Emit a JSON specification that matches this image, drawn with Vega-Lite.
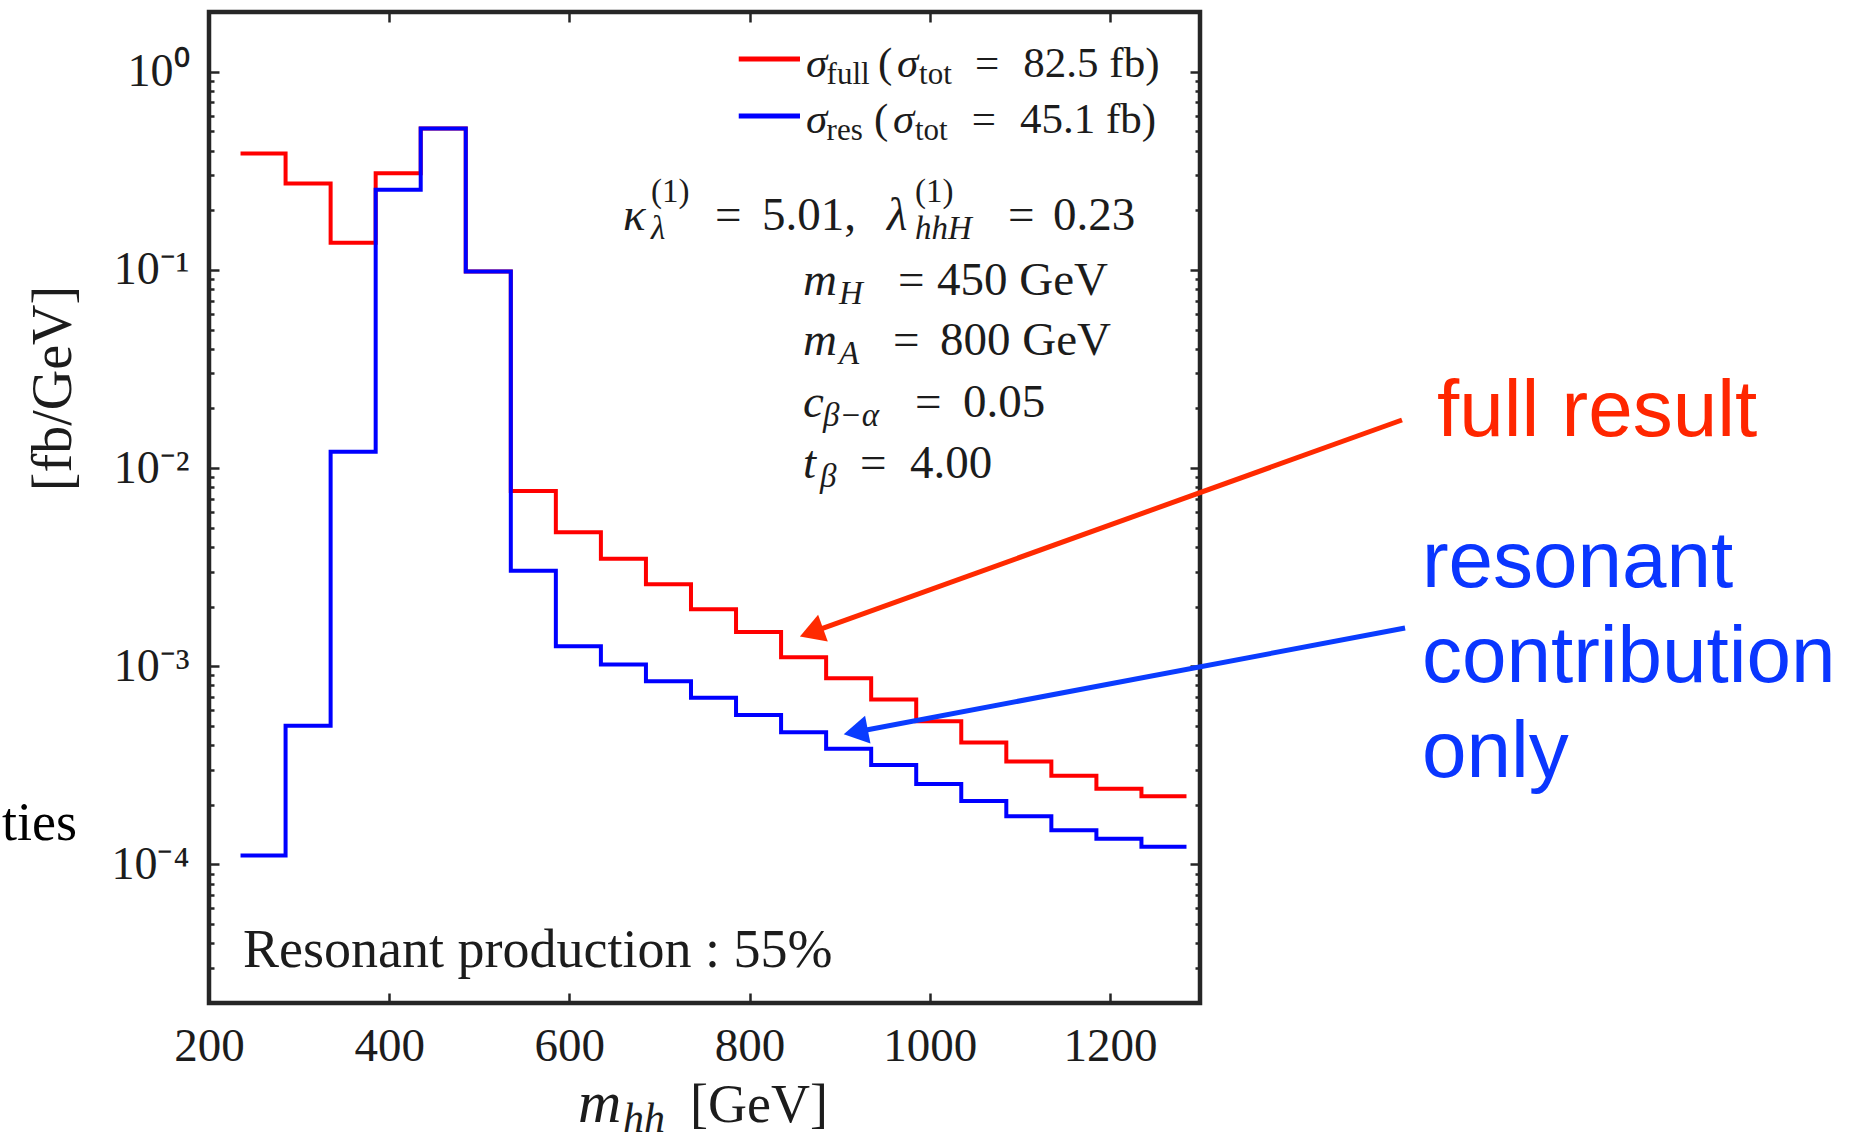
{
  "$schema": "https://vega.github.io/schema/vega-lite/v6.json",
  "width": 991,
  "height": 991,
  "autosize": {"type": "none"},
  "padding": {"left": 209, "top": 12, "right": 676, "bottom": 139},
  "background": "white",
  "config": {
    "view": {"stroke": "#262626", "strokeWidth": 4.5},
    "axis": {"domain": false, "grid": false, "tickColor": "#262626", "tickWidth": 2.5, "labelFont": "Liberation Serif", "titleFont": "Liberation Serif", "labelColor": "#1c1c1c", "titleColor": "#1c1c1c", "labelFontSize": 46, "titleFontWeight": "normal"},
    "text": {"font": "Liberation Serif", "color": "#1c1c1c"}
  },
  "datasets": {
    "full": [{"x":235,"y":0.386},{"x":285,"y":0.273},{"x":335,"y":0.137},{"x":385,"y":0.307},{"x":435,"y":0.516},{"x":485,"y":0.098},{"x":535,"y":0.00766},{"x":585,"y":0.00474},{"x":635,"y":0.00349},{"x":685,"y":0.00259},{"x":735,"y":0.00194},{"x":785,"y":0.00149},{"x":835,"y":0.00111},{"x":885,"y":0.00087},{"x":935,"y":0.00068},{"x":985,"y":0.000528},{"x":1035,"y":0.000413},{"x":1085,"y":0.000331},{"x":1135,"y":0.00028},{"x":1185,"y":0.000241},{"x":1235,"y":0.000221},{"x":1285,"y":0.000221}],
    "res": [{"x":235,"y":0.000111},{"x":285,"y":0.000501},{"x":335,"y":0.0121},{"x":385,"y":0.254},{"x":435,"y":0.516},{"x":485,"y":0.098},{"x":535,"y":0.00303},{"x":585,"y":0.00126},{"x":635,"y":0.00102},{"x":685,"y":0.00084},{"x":735,"y":0.000693},{"x":785,"y":0.000567},{"x":835,"y":0.000465},{"x":885,"y":0.000384},{"x":935,"y":0.000318},{"x":985,"y":0.000255},{"x":1035,"y":0.000209},{"x":1085,"y":0.000175},{"x":1135,"y":0.000149},{"x":1185,"y":0.000135},{"x":1235,"y":0.000123},{"x":1285,"y":0.000123}],
    "legendLines": [{"series":"full","x":788,"x2":856,"y":1.159},{"series":"res","x":788,"x2":856,"y":0.5975}],
    "legendSymbols": [{"x":862.7,"y":0.94,"t":"σ"},{"x":963.7,"y":0.94,"t":"σ"},{"x":862.7,"y":0.4903,"t":"σ"},{"x":959.2,"y":0.4903,"t":"σ"}],
    "legendText": [{"x":942.6,"y":0.94,"t":"("},{"x":1050.3,"y":0.94,"t":"="},{"x":1103.9,"y":0.94,"t":"82.5 fb)"},{"x":938.1,"y":0.4903,"t":"("},{"x":1046.6,"y":0.4903,"t":"="},{"x":1100.2,"y":0.4903,"t":"45.1 fb)"}],
    "legendSubs": [{"x":885.5,"y":0.94,"t":"full"},{"x":988.2,"y":0.94,"t":"tot"},{"x":885.5,"y":0.4903,"t":"res"},{"x":983.6,"y":0.4903,"t":"tot"}],
    "paramItalic": [{"x":659.5,"y":0.159,"t":"κ"},{"x":952.6,"y":0.159,"t":"λ"},{"x":859.3,"y":0.07466,"t":"m"},{"x":859.3,"y":0.03719,"t":"m"},{"x":859.3,"y":0.0181,"t":"c"},{"x":859.3,"y":0.008913,"t":"t"}],
    "paramRoman": [{"x":761.7,"y":0.159,"t":"="},{"x":813.8,"y":0.159,"t":"5.01,"},{"x":1086.9,"y":0.159,"t":"="},{"x":1136.8,"y":0.159,"t":"0.23"},{"x":964.8,"y":0.07466,"t":"="},{"x":1008.1,"y":0.07466,"t":"450 GeV"},{"x":959.2,"y":0.03719,"t":"="},{"x":1011.4,"y":0.03719,"t":"800 GeV"},{"x":983.6,"y":0.0181,"t":"="},{"x":1036.9,"y":0.0181,"t":"0.05"},{"x":922.6,"y":0.008913,"t":"="},{"x":978.1,"y":0.008913,"t":"4.00"}],
    "paramSubs": [{"x":690.5,"y":0.159,"t":"λ"},{"x":983.6,"y":0.159,"t":"hhH"},{"x":899.2,"y":0.07466,"t":"H"},{"x":899.2,"y":0.03719,"t":"A"},{"x":881.5,"y":0.0181,"t":"β−α"},{"x":878.2,"y":0.008913,"t":"β"}],
    "paramSups": [{"x":690.5,"y":0.159,"t":"(1)"},{"x":983.6,"y":0.159,"t":"(1)"}],
    "note": [{"x":237.7,"y":0.0000304,"t":"Resonant production : 55%"}],
    "cutText": [{"x":53.5,"y":0.000133,"t":"ties"}],
    "xTitleItalic": [{"x":609.6,"y":0.00000502,"t":"m"}],
    "xTitleSub": [{"x":659.5,"y":0.00000502,"t":"hh"}],
    "xTitleRoman": [{"x":733.9,"y":0.00000502,"t":"[GeV]"}],
    "calloutRed": [{"x":1563.1,"y":0.014517,"t":"full result"}],
    "calloutBlue": [{"x":1546.4,"y":0.0025115,"t":"resonant"},{"x":1546.4,"y":0.000833,"t":"contribution"},{"x":1546.4,"y":0.0002762,"t":"only"}],
    "arrowRed": [{"x":1524.2,"y":0.017478},{"x":868.7,"y":0.0014838}],
    "arrowBlue": [{"x":1527.6,"y":0.0015598},{"x":917.9,"y":0.00046608}],
    "headRed": [{"x":868.7,"y":0.0014838}],
    "headBlue": [{"x":917.9,"y":0.00046608}]
  },
  "resolve": {"axis": {"x": "independent", "y": "independent"}},
  "layer": [
    {
      "data": {"name": "full"},
      "mark": {"type": "line", "interpolate": "step-after", "color": "#ff0000", "strokeWidth": 4, "strokeJoin": "miter"},
      "encoding": {
        "x": {"field": "x", "type": "quantitative", "scale": {"domain": [200, 1300], "nice": false, "zero": false},
              "axis": {"orient": "bottom", "values": [200, 400, 600, 800, 1000, 1200], "format": "d", "tickSize": -10, "labelPadding": 30, "title": null, "labelFlush": false, "labelOverlap": false, "labelFontSize": 47}},
        "y": {"field": "y", "type": "quantitative", "scale": {"type": "log", "domain": [0.00002, 2], "nice": false},
              "axis": {"orient": "left", "values": [0.0001, 0.001, 0.01, 0.1, 1], "tickSize": -10, "labelPadding": 30, "labelOverlap": false,
                       "labelExpr": "datum.value >= 0.99 ? '10⁰' : datum.value >= 0.099 ? '10⁻¹' : datum.value >= 0.0099 ? '10⁻²' : datum.value >= 0.00099 ? '10⁻³' : '10⁻⁴'",
                       "title": "[fb/GeV]", "titleFontSize": 56, "titleAngle": 270, "titleX": -156, "titleY": 376, "titleAlign": "center", "titleBaseline": "middle"}}
      }
    },
    {
      "data": {"name": "res"},
      "mark": {"type": "line", "interpolate": "step-after", "color": "#0000ff", "strokeWidth": 4, "strokeJoin": "miter"},
      "encoding": {
        "x": {"field": "x", "type": "quantitative", "scale": {"domain": [200, 1300], "nice": false, "zero": false},
              "axis": {"orient": "top", "values": [200, 400, 600, 800, 1000, 1200], "tickSize": -10, "labels": false, "title": null}},
        "y": {"field": "y", "type": "quantitative", "scale": {"type": "log", "domain": [0.00002, 2], "nice": false},
              "axis": {"orient": "right", "values": [0.0001, 0.001, 0.01, 0.1, 1], "tickSize": -10, "labels": false, "title": null}}
      }
    },
    {
      "data": {"name": "legendLines"},
      "mark": {"type": "rule", "strokeWidth": 5},
      "encoding": {
        "x": {"field": "x", "type": "quantitative", "scale": {"domain": [200, 1300], "nice": false, "zero": false}, "axis": null},
        "x2": {"field": "x2"},
        "y": {"field": "y", "type": "quantitative", "scale": {"type": "log", "domain": [0.00002, 2], "nice": false},
              "axis": {"orient": "left", "values": [0.00002,0.00003,0.00004,0.00005,0.00006,0.00007,0.00008,0.00009,0.0002,0.0003,0.0004,0.0005,0.0006,0.0007,0.0008,0.0009,0.002,0.003,0.004,0.005,0.006,0.007,0.008,0.009,0.02,0.03,0.04,0.05,0.06,0.07,0.08,0.09,0.2,0.3,0.4,0.5,0.6,0.7,0.8,0.9,2], "tickSize": -5, "labels": false, "title": null}},
        "color": {"field": "series", "type": "nominal", "scale": {"domain": ["full", "res"], "range": ["#ff0000", "#0000ff"]}, "legend": null}
      }
    },
    {
      "data": {"name": "arrowRed"},
      "mark": {"type": "line", "color": "#ff2a00", "strokeWidth": 5},
      "encoding": {
        "x": {"field": "x", "type": "quantitative", "scale": {"domain": [200, 1300], "nice": false, "zero": false}, "axis": null},
        "y": {"field": "y", "type": "quantitative", "scale": {"type": "log", "domain": [0.00002, 2], "nice": false},
              "axis": {"orient": "right", "values": [0.00002,0.00003,0.00004,0.00005,0.00006,0.00007,0.00008,0.00009,0.0002,0.0003,0.0004,0.0005,0.0006,0.0007,0.0008,0.0009,0.002,0.003,0.004,0.005,0.006,0.007,0.008,0.009,0.02,0.03,0.04,0.05,0.06,0.07,0.08,0.09,0.2,0.3,0.4,0.5,0.6,0.7,0.8,0.9,2], "tickSize": -5, "labels": false, "title": null}}
      }
    },
    {
      "data": {"name": "arrowBlue"},
      "mark": {"type": "line", "color": "#0a3cff", "strokeWidth": 5},
      "encoding": {
        "x": {"field": "x", "type": "quantitative", "scale": {"domain": [200, 1300], "nice": false, "zero": false}, "axis": null},
        "y": {"field": "y", "type": "quantitative", "scale": {"type": "log", "domain": [0.00002, 2], "nice": false}, "axis": null}
      }
    },
    {
      "data": {"name": "headRed"},
      "mark": {"type": "point", "shape": "triangle-up", "filled": true, "size": 800, "angle": 250, "color": "#ff2a00", "opacity": 1},
      "encoding": {
        "x": {"field": "x", "type": "quantitative", "scale": {"domain": [200, 1300], "nice": false, "zero": false}, "axis": null},
        "y": {"field": "y", "type": "quantitative", "scale": {"type": "log", "domain": [0.00002, 2], "nice": false}, "axis": null}
      }
    },
    {
      "data": {"name": "headBlue"},
      "mark": {"type": "point", "shape": "triangle-up", "filled": true, "size": 800, "angle": 259, "color": "#0a3cff", "opacity": 1},
      "encoding": {
        "x": {"field": "x", "type": "quantitative", "scale": {"domain": [200, 1300], "nice": false, "zero": false}, "axis": null},
        "y": {"field": "y", "type": "quantitative", "scale": {"type": "log", "domain": [0.00002, 2], "nice": false}, "axis": null}
      }
    },
    {
      "data": {"name": "legendSymbols"},
      "mark": {"type": "text", "align": "left", "baseline": "alphabetic", "fontSize": 43, "fontStyle": "italic"},
      "encoding": {
        "x": {"field": "x", "type": "quantitative", "scale": {"domain": [200, 1300], "nice": false, "zero": false}, "axis": null},
        "y": {"field": "y", "type": "quantitative", "scale": {"type": "log", "domain": [0.00002, 2], "nice": false}, "axis": null},
        "text": {"field": "t"}
      }
    },
    {
      "data": {"name": "legendText"},
      "mark": {"type": "text", "align": "left", "baseline": "alphabetic", "fontSize": 43},
      "encoding": {
        "x": {"field": "x", "type": "quantitative", "scale": {"domain": [200, 1300], "nice": false, "zero": false}, "axis": null},
        "y": {"field": "y", "type": "quantitative", "scale": {"type": "log", "domain": [0.00002, 2], "nice": false}, "axis": null},
        "text": {"field": "t"}
      }
    },
    {
      "data": {"name": "legendSubs"},
      "mark": {"type": "text", "align": "left", "baseline": "alphabetic", "fontSize": 31, "dy": 7},
      "encoding": {
        "x": {"field": "x", "type": "quantitative", "scale": {"domain": [200, 1300], "nice": false, "zero": false}, "axis": null},
        "y": {"field": "y", "type": "quantitative", "scale": {"type": "log", "domain": [0.00002, 2], "nice": false}, "axis": null},
        "text": {"field": "t"}
      }
    },
    {
      "data": {"name": "paramItalic"},
      "mark": {"type": "text", "align": "left", "baseline": "alphabetic", "fontSize": 47, "fontStyle": "italic"},
      "encoding": {
        "x": {"field": "x", "type": "quantitative", "scale": {"domain": [200, 1300], "nice": false, "zero": false}, "axis": null},
        "y": {"field": "y", "type": "quantitative", "scale": {"type": "log", "domain": [0.00002, 2], "nice": false}, "axis": null},
        "text": {"field": "t"}
      }
    },
    {
      "data": {"name": "paramRoman"},
      "mark": {"type": "text", "align": "left", "baseline": "alphabetic", "fontSize": 47},
      "encoding": {
        "x": {"field": "x", "type": "quantitative", "scale": {"domain": [200, 1300], "nice": false, "zero": false}, "axis": null},
        "y": {"field": "y", "type": "quantitative", "scale": {"type": "log", "domain": [0.00002, 2], "nice": false}, "axis": null},
        "text": {"field": "t"}
      }
    },
    {
      "data": {"name": "paramSubs"},
      "mark": {"type": "text", "align": "left", "baseline": "alphabetic", "fontSize": 33, "fontStyle": "italic", "dy": 9},
      "encoding": {
        "x": {"field": "x", "type": "quantitative", "scale": {"domain": [200, 1300], "nice": false, "zero": false}, "axis": null},
        "y": {"field": "y", "type": "quantitative", "scale": {"type": "log", "domain": [0.00002, 2], "nice": false}, "axis": null},
        "text": {"field": "t"}
      }
    },
    {
      "data": {"name": "paramSups"},
      "mark": {"type": "text", "align": "left", "baseline": "alphabetic", "fontSize": 33, "dy": -28},
      "encoding": {
        "x": {"field": "x", "type": "quantitative", "scale": {"domain": [200, 1300], "nice": false, "zero": false}, "axis": null},
        "y": {"field": "y", "type": "quantitative", "scale": {"type": "log", "domain": [0.00002, 2], "nice": false}, "axis": null},
        "text": {"field": "t"}
      }
    },
    {
      "data": {"name": "note"},
      "mark": {"type": "text", "align": "left", "baseline": "alphabetic", "fontSize": 54},
      "encoding": {
        "x": {"field": "x", "type": "quantitative", "scale": {"domain": [200, 1300], "nice": false, "zero": false}, "axis": null},
        "y": {"field": "y", "type": "quantitative", "scale": {"type": "log", "domain": [0.00002, 2], "nice": false}, "axis": null},
        "text": {"field": "t"}
      }
    },
    {
      "data": {"name": "cutText"},
      "mark": {"type": "text", "align": "right", "baseline": "alphabetic", "fontSize": 54, "color": "#000000"},
      "encoding": {
        "x": {"field": "x", "type": "quantitative", "scale": {"domain": [200, 1300], "nice": false, "zero": false}, "axis": null},
        "y": {"field": "y", "type": "quantitative", "scale": {"type": "log", "domain": [0.00002, 2], "nice": false}, "axis": null},
        "text": {"field": "t"}
      }
    },
    {
      "data": {"name": "xTitleItalic"},
      "mark": {"type": "text", "align": "left", "baseline": "alphabetic", "fontSize": 60, "fontStyle": "italic"},
      "encoding": {
        "x": {"field": "x", "type": "quantitative", "scale": {"domain": [200, 1300], "nice": false, "zero": false}, "axis": null},
        "y": {"field": "y", "type": "quantitative", "scale": {"type": "log", "domain": [0.00002, 2], "nice": false}, "axis": null},
        "text": {"field": "t"}
      }
    },
    {
      "data": {"name": "xTitleSub"},
      "mark": {"type": "text", "align": "left", "baseline": "alphabetic", "fontSize": 42, "fontStyle": "italic", "dy": 10},
      "encoding": {
        "x": {"field": "x", "type": "quantitative", "scale": {"domain": [200, 1300], "nice": false, "zero": false}, "axis": null},
        "y": {"field": "y", "type": "quantitative", "scale": {"type": "log", "domain": [0.00002, 2], "nice": false}, "axis": null},
        "text": {"field": "t"}
      }
    },
    {
      "data": {"name": "xTitleRoman"},
      "mark": {"type": "text", "align": "left", "baseline": "alphabetic", "fontSize": 54},
      "encoding": {
        "x": {"field": "x", "type": "quantitative", "scale": {"domain": [200, 1300], "nice": false, "zero": false}, "axis": null},
        "y": {"field": "y", "type": "quantitative", "scale": {"type": "log", "domain": [0.00002, 2], "nice": false}, "axis": null},
        "text": {"field": "t"}
      }
    },
    {
      "data": {"name": "calloutRed"},
      "mark": {"type": "text", "align": "left", "baseline": "alphabetic", "fontSize": 80, "font": "Liberation Sans", "color": "#ff2600"},
      "encoding": {
        "x": {"field": "x", "type": "quantitative", "scale": {"domain": [200, 1300], "nice": false, "zero": false}, "axis": null},
        "y": {"field": "y", "type": "quantitative", "scale": {"type": "log", "domain": [0.00002, 2], "nice": false}, "axis": null},
        "text": {"field": "t"}
      }
    },
    {
      "data": {"name": "calloutBlue"},
      "mark": {"type": "text", "align": "left", "baseline": "alphabetic", "fontSize": 80, "font": "Liberation Sans", "color": "#0a36ff"},
      "encoding": {
        "x": {"field": "x", "type": "quantitative", "scale": {"domain": [200, 1300], "nice": false, "zero": false}, "axis": null},
        "y": {"field": "y", "type": "quantitative", "scale": {"type": "log", "domain": [0.00002, 2], "nice": false}, "axis": null},
        "text": {"field": "t"}
      }
    }
  ]
}
